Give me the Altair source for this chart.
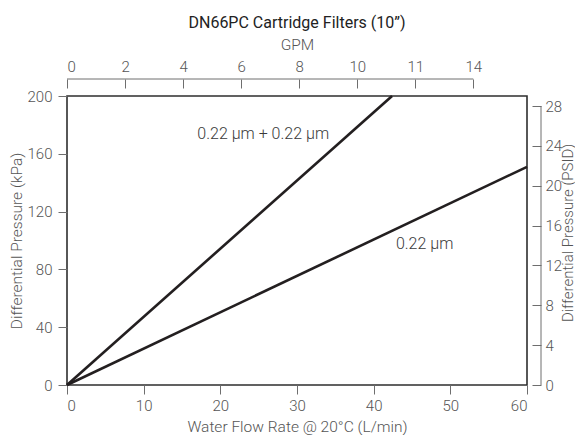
import altair as alt
import pandas as pd

# ---- data ----
series = ["0.22 µm", "0.22 µm + 0.22 µm"]
flow_single = [0, 60]          # L/min
dp_single = [0, 151]           # kPa
flow_double = [0, 42.4]        # L/min
dp_double = [0, 200]           # kPa

label_text = ["0.22 µm + 0.22 µm", "0.22 µm"]
label_flow = [17.0, 42.9]
label_dp = [173.7, 97.6]

flow_ticks = [0, 10, 20, 30, 40, 50, 60]
kpa_ticks = [0, 40, 80, 120, 160, 200]
gpm_ticks = [0, 2, 4, 6, 8, 10, 12, 14]
psi_ticks = [0, 4, 8, 12, 16, 20, 24, 28]

LPM_PER_GPM = 3.78541
PSI_PER_KPA = 0.1450377

W, H = 460, 289
FONT = "Roboto"
LINE = "#231f20"
GRAY = "#6e6e6e"
LABEL = "#555555"
LIGHT = 300

rows = []
for f, d in zip(flow_single, dp_single):
    rows.append({"flow": f, "dp": d, "series": series[0]})
for f, d in zip(flow_double, dp_double):
    rows.append({"flow": f, "dp": d, "series": series[1]})
df = pd.DataFrame(rows)
lbl = pd.DataFrame({"text": label_text, "flow": label_flow, "dp": label_dp})

xs = alt.Scale(domain=[0, 60], nice=False, zero=True)
ys = alt.Scale(domain=[0, 200], nice=False, zero=True)

lines = alt.Chart(df).mark_line(color=LINE, strokeWidth=2.6).encode(
    x=alt.X("flow:Q", scale=xs,
            axis=alt.Axis(orient="bottom", values=flow_ticks, title="Water Flow Rate @ 20°C (L/min)",
                          domain=False, grid=False, tickSize=9, labelPadding=4,
                          titleX=W / 2, titleY=46, titleBaseline="alphabetic", titleAlign="center")),
    y=alt.Y("dp:Q", scale=ys,
            axis=alt.Axis(orient="left", values=kpa_ticks, title="Differential Pressure (kPa)",
                          domain=False, grid=False, tickSize=9, labelPadding=6,
                          titleX=-46, titleY=H / 2, titleAngle=270, titleBaseline="alphabetic",
                          titleAlign="center")),
    detail="series:N",
)
texts = alt.Chart(lbl).mark_text(align="left", baseline="middle", fontSize=16, font=FONT,
                                 fontWeight=LIGHT, color="#3a3a3a").encode(
    x=alt.X("flow:Q", scale=xs), y=alt.Y("dp:Q", scale=ys), text="text:N")
main = alt.layer(lines, texts)

gpm_df = pd.DataFrame({"g0": [gpm_ticks[0]], "g1": [gpm_ticks[-1]]})
gpm = alt.Chart(gpm_df).mark_rule(color=GRAY, strokeWidth=1).encode(
    x=alt.X("g0:Q", scale=alt.Scale(domain=[0, 60 / LPM_PER_GPM], nice=False, zero=True),
            axis=alt.Axis(orient="top", values=gpm_ticks, title="GPM", offset=8, tickSize=9,
                          domain=False, grid=False, labelPadding=5,
                          titleX=W / 2, titleY=-39, titleBaseline="alphabetic", titleAlign="center",
                          labelExpr="datum.value == 12 ? '11' : datum.label")),
    x2="g1:Q",
    y=alt.value(-17),
)

psi_df = pd.DataFrame({"p0": [psi_ticks[0]], "p1": [psi_ticks[-1]]})
psi = alt.Chart(psi_df).mark_rule(color=GRAY, strokeWidth=1).encode(
    y=alt.Y("p0:Q", scale=alt.Scale(domain=[0, 200 * PSI_PER_KPA], nice=False, zero=True),
            axis=alt.Axis(orient="right", values=psi_ticks, title="Differential Pressure (PSID)",
                          offset=5, tickSize=9, domain=False, grid=False, labelPadding=4,
                          titleX=40, titleY=H / 2 - 8, titleAngle=270, titleBaseline="alphabetic",
                          titleAlign="center", titleFontSize=15)),
    y2="p1:Q",
    x=alt.value(W + 14),
)

chart = alt.layer(main, gpm, psi).resolve_scale(x="independent", y="independent").properties(
    width=W, height=H,
    title=alt.TitleParams("DN66PC Cartridge Filters (10\u201d)", fontSize=16, font=FONT,
                          fontWeight="normal", color="#222222", anchor="middle", offset=6),
    autosize=alt.AutoSizeParams(type="none"),
    padding={"left": 59, "top": 88, "right": 48, "bottom": 50},
).configure_view(stroke="#2e2e2e", strokeWidth=1.6).configure_axis(
    labelFont=FONT, titleFont=FONT, labelFontSize=15, titleFontSize=15.5,
    labelFontWeight=LIGHT, titleFontWeight=LIGHT,
    labelColor=LABEL, titleColor=LABEL,
    tickColor=GRAY, tickWidth=1,
)

chart.save("out.html", embed_options={"renderer": "svg", "actions": False})
